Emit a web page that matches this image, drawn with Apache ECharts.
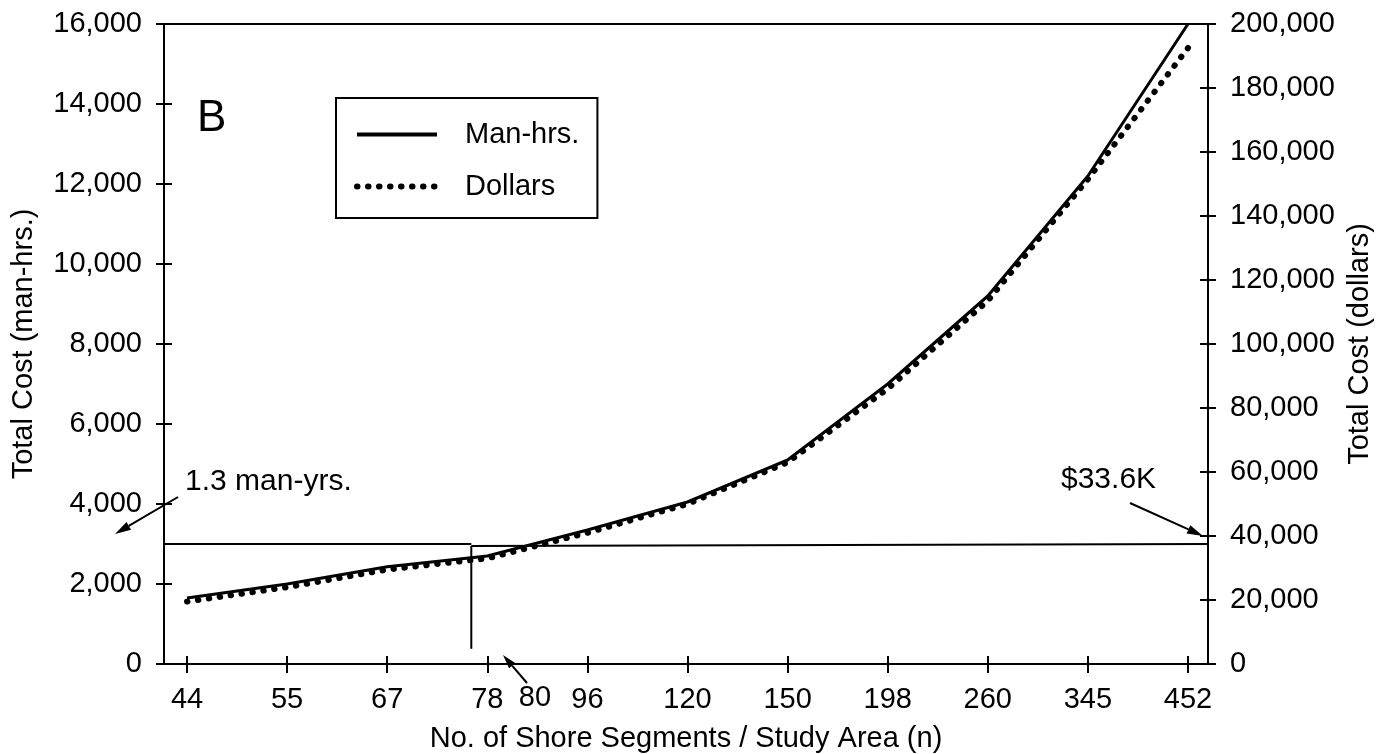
<!DOCTYPE html>
<html>
<head>
<meta charset="utf-8">
<script src="https://cdn.jsdelivr.net/npm/echarts@6/dist/echarts.min.js"></script>
<style>html,body{margin:0;padding:0;background:#fff}#c{width:1394px;height:754px}</style>
</head>
<body>
<div id="c"></div>
<script>
const categories = ['44','55','67','78','96','120','150','198','260','345','452'];
const manHrs = [1650, 2000, 2430, 2700, 3350, 4050, 5100, 7000, 9200, 12200, 16000];
const dollars = [19500, 24000, 29500, 33000, 41000, 50000, 63000, 86000, 113500, 151500, 192500];
const leftTicks = [0, 2000, 4000, 6000, 8000, 10000, 12000, 14000, 16000];
const rightTicks = [0, 20000, 40000, 60000, 80000, 100000, 120000, 140000, 160000, 180000, 200000];
const refLeft = [[-0.23, 3000], [2.84, 3000]];
const refVert = [[2.84, 2950], [2.84, 380]];
const refRight = [[2.84, 2950], [10.2, 3000]];

const FONT = "'Liberation Sans', Arial, sans-serif";
const chart = echarts.init(document.getElementById('c'));
const xIdx = categories.map((c, i) => i);
const fmt = v => Number(v).toLocaleString('en-US');

function arrow(x1, y1, x2, y2, len, wid) {
  const dx = x2 - x1, dy = y2 - y1, d = Math.hypot(dx, dy);
  const ux = dx / d, uy = dy / d, px = -uy, py = ux;
  const bx = x2 - ux * len, by = y2 - uy * len;
  return [
    {type: 'line', shape: {x1: x1, y1: y1, x2: bx, y2: by}, style: {stroke: '#000', lineWidth: 2}, z: 10},
    {type: 'polygon', shape: {points: [[x2, y2], [bx + px * wid / 2, by + py * wid / 2], [bx - px * wid / 2, by - py * wid / 2]]}, style: {fill: '#000'}, z: 10}
  ];
}

const baseX = {
  type: 'value', min: -0.23, max: 10.2, position: 'bottom',
  splitLine: {show: false}
};
const baseYL = {type: 'value', min: 0, max: 16000, interval: 2000, position: 'left', splitLine: {show: false}};
const baseYR = {type: 'value', min: 0, max: 200000, interval: 20000, position: 'right', splitLine: {show: false}};
const dotStyle = {color: '#000', width: 6, type: [0.5, 10.5], cap: 'round'};

const option = {
  animation: false,
  textStyle: {fontFamily: FONT, color: '#000'},
  grid: {left: 164, right: 186, top: 24, bottom: 90, show: true, borderColor: '#000', borderWidth: 2,
    containLabel: false, outerBoundsMode: 'none'},
  legend: {
    data: [
      {name: 'Man-hrs.', itemStyle: {opacity: 0}, lineStyle: {color: '#000', width: 4, type: 'solid'}},
      {name: 'Dollars', itemStyle: {opacity: 0}, lineStyle: dotStyle}
    ],
    orient: 'vertical', left: 336, top: 98,
    itemWidth: 80, itemHeight: 20, itemGap: 23,
    padding: [22, 18, 17, 18],
    borderColor: '#000', borderWidth: 2,
    selectedMode: false,
    textStyle: {fontFamily: FONT, fontSize: 29, color: '#000', padding: [0, 0, 0, 23]}
  },
  xAxis: [
    Object.assign({}, baseX, {
      name: 'No. of Shore Segments / Study Area (n)', nameLocation: 'middle', nameGap: 60,
      nameTextStyle: {fontFamily: FONT, fontSize: 29, color: '#000'},
      axisLine: {show: true, onZero: false, lineStyle: {color: '#000', width: 2}},
      axisTick: {show: true, inside: false, length: 9, customValues: xIdx, lineStyle: {color: '#000', width: 2}},
      axisLabel: {show: true, margin: 21, fontSize: 29, color: '#000', fontFamily: FONT, customValues: xIdx,
        formatter: v => categories[Math.round(v)] || ''}
    }),
    Object.assign({}, baseX, {
      axisLine: {show: false, onZero: false},
      axisTick: {show: true, inside: true, length: 8, customValues: xIdx, lineStyle: {color: '#000', width: 2}},
      axisLabel: {show: false}
    })
  ],
  yAxis: [
    Object.assign({}, baseYL, {
      name: 'Total Cost (man-hrs.)', nameLocation: 'middle', nameGap: 126,
      nameTextStyle: {fontFamily: FONT, fontSize: 29, color: '#000'},
      axisLine: {show: true, onZero: false, lineStyle: {color: '#000', width: 2}},
      axisTick: {show: true, length: 8, lineStyle: {color: '#000', width: 2}},
      axisLabel: {show: true, margin: 22, fontSize: 29, color: '#000', fontFamily: FONT, formatter: fmt}
    }),
    Object.assign({}, baseYR, {
      name: 'Total Cost (dollars)', nameLocation: 'middle', nameGap: 136,
      nameTextStyle: {fontFamily: FONT, fontSize: 29, color: '#000'},
      axisLine: {show: true, onZero: false, lineStyle: {color: '#000', width: 2}},
      axisTick: {show: true, length: 8, lineStyle: {color: '#000', width: 2}},
      axisLabel: {show: true, margin: 22, fontSize: 29, color: '#000', fontFamily: FONT, formatter: fmt}
    }),
    Object.assign({}, baseYL, {
      axisLine: {show: false, onZero: false},
      axisTick: {show: true, inside: true, length: 8, lineStyle: {color: '#000', width: 2}},
      axisLabel: {show: false}
    }),
    Object.assign({}, baseYR, {
      axisLine: {show: false, onZero: false},
      axisTick: {show: true, inside: true, length: 8, lineStyle: {color: '#000', width: 2}},
      axisLabel: {show: false}
    })
  ],
  series: [
    {name: 'Dollars', type: 'line', yAxisIndex: 1, symbol: 'none', silent: true,
      data: dollars.map((v, i) => [i, v]),
      lineStyle: dotStyle, itemStyle: {color: '#000'}, z: 3},
    {name: 'Man-hrs.', type: 'line', yAxisIndex: 0, symbol: 'none', silent: true,
      data: manHrs.map((v, i) => [i, v]),
      lineStyle: {color: '#000', width: 3, type: 'solid'}, itemStyle: {color: '#000'}, z: 4},
    {name: 'refL', type: 'line', yAxisIndex: 0, symbol: 'none', silent: true, data: refLeft,
      lineStyle: {color: '#000', width: 2}, z: 2},
    {name: 'refV', type: 'line', yAxisIndex: 0, symbol: 'none', silent: true, data: refVert,
      lineStyle: {color: '#000', width: 2}, z: 2},
    {name: 'refR', type: 'line', yAxisIndex: 0, symbol: 'none', silent: true, data: refRight,
      lineStyle: {color: '#000', width: 2}, z: 2}
  ],
  graphic: [
    {type: 'text', left: 197, top: 97, style: {text: 'B', font: '44px ' + FONT, fill: '#000'}, z: 10},
    {type: 'text', x: 185, y: 482, style: {text: '1.3 man-yrs.', font: '30px ' + FONT, fill: '#000', verticalAlign: 'middle', align: 'left'}, z: 10},
    {type: 'text', x: 1061, y: 480, style: {text: '$33.6K', font: '30px ' + FONT, fill: '#000', verticalAlign: 'middle', align: 'left'}, z: 10},
    {type: 'text', x: 535, y: 698, style: {text: '80', font: '29px ' + FONT, fill: '#000', verticalAlign: 'middle', align: 'center'}, z: 10}
  ].concat(arrow(178, 497, 115, 534, 16, 9))
   .concat(arrow(1130, 503, 1203, 536, 16, 9))
   .concat(arrow(527, 683, 503, 655, 14, 8))
};
chart.setOption(option);
</script>
</body>
</html>
